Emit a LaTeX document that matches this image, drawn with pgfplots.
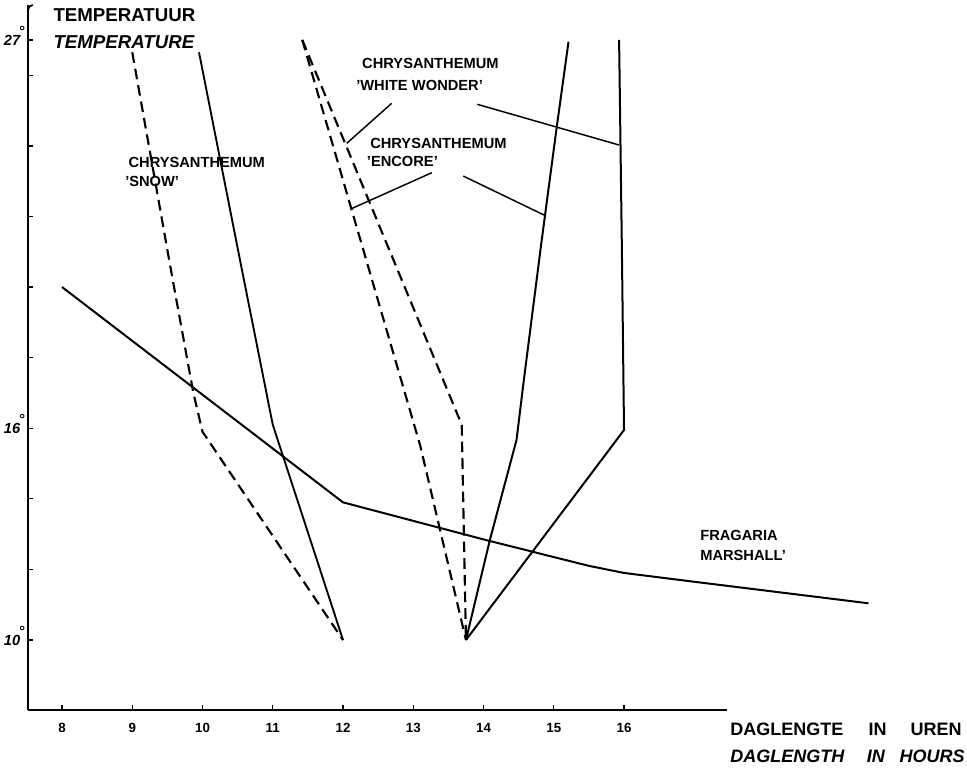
\documentclass[border=0pt]{standalone}
\usepackage{pgfplots}
\pgfplotsset{compat=1.18}
\usepackage{fontspec}
\setmainfont{Liberation Sans}
\newcommand{\dg}{\kern-0.12em\smash{\raisebox{0.6em}{°}}}
\begin{document}
\begin{tikzpicture}
\begin{axis}[
  scale only axis, width=524.25pt, height=528.75pt,
  xmin=7.516, xmax=17.466, ymin=8.017, ymax=27.99,
  axis x line=bottom, axis y line=left,
  x axis line style={-, line width=1.3pt},
  y axis line style={-, line width=1.3pt},
  xtick={8,...,16}, xticklabels={8,9,10,11,12,13,14,15,16},
  ytick={10,12,14,16,18,20,22,24,26,27},
  yticklabels={10\dg,,,16\dg,,,,,,27\dg},
  tick align=inside, major tick length=4pt,
  tick style={line width=1pt, black},
  xticklabel style={font=\bfseries\fontsize{10}{12}\selectfont, inner sep=0pt, anchor=north, yshift=-9.5pt},
  yticklabel style={font=\bfseries\itshape\fontsize{11}{13}\selectfont, inner sep=0pt, anchor=east, xshift=-2.5pt},
  clip=false,
]
% Chrysanthemum 'Snow' dashed
\addplot[black, line width=1.6pt, dash pattern=on 8pt off 4.5pt] coordinates {(9.0,26.65) (9.54,20.6) (9.87,17.0) (10.0,15.9) (12.0,10.0)};
% Chrysanthemum 'Snow' solid
\addplot[black, line width=1.4pt] coordinates {(9.95,26.65) (10.56,20.5) (11.0,16.1) (12.0,10.0)};
% Encore dashed
\addplot[black, line width=1.6pt, dash pattern=on 8pt off 4.5pt] coordinates {(11.42,27.0) (13.1,15.5) (13.75,10.0)};
% White Wonder dashed
\addplot[black, line width=1.6pt, dash pattern=on 8pt off 4.5pt] coordinates {(11.42,27.0) (13.69,16.1) (13.75,10.0)};
% Encore solid
\addplot[black, line width=1.5pt] coordinates {(13.75,10.0) (14.09,12.83) (14.47,15.67) (14.57,17.3) (14.82,21.2) (15.04,24.5) (15.21,26.95)};
% White Wonder solid
\addplot[black, line width=1.5pt] coordinates {(13.75,10.0) (16.0,15.95) (15.97,21.0) (15.93,27.0)};
% Fragaria 'Marshall'
\addplot[black, line width=1.5pt] coordinates {(8.0,20.0) (12.0,13.9) (14.0,12.85) (15.5,12.1) (16.0,11.9) (17.0,11.65) (19.48,11.04)};
% leader lines
\draw[line width=1.1pt] (axis cs:12.693,25.204) -- (axis cs:12.053,24.071);
\draw[line width=1.1pt] (axis cs:13.912,25.176) -- (axis cs:15.929,24.023);
\draw[line width=1.1pt] (axis cs:13.263,23.238) -- (axis cs:12.110,22.210);
\draw[line width=1.1pt] (axis cs:13.712,23.144) -- (axis cs:14.861,22.040);
% top hook of y axis
\draw[line width=1.3pt] (axis cs:7.516,27.85) to[out=90,in=180] (axis cs:7.585,27.99);
% texts
\node[anchor=west, inner sep=0pt, font=\bfseries\fontsize{14}{16}\selectfont] at (axis cs:7.876,27.705) {TEMPERATUUR};
\node[anchor=west, inner sep=0pt, font=\bfseries\itshape\fontsize{14}{16}\selectfont] at (axis cs:7.876,26.935) {TEMPERATURE};
\node[anchor=west, inner sep=0pt, font=\bfseries\fontsize{11}{13}\selectfont] at (axis cs:8.944,23.541) {CHRYSANTHEMUM};
\node[anchor=west, inner sep=0pt, font=\bfseries\fontsize{11}{13}\selectfont] at (axis cs:8.897,23.003) {'SNOW'};
\node[anchor=west, inner sep=0pt, font=\bfseries\fontsize{11}{13}\selectfont] at (axis cs:12.384,24.079) {CHRYSANTHEMUM};
\node[anchor=west, inner sep=0pt, font=\bfseries\fontsize{11}{13}\selectfont] at (axis cs:12.337,23.550) {'ENCORE'};
\node[anchor=west, inner sep=0pt, font=\bfseries\fontsize{11}{13}\selectfont] at (axis cs:12.270,26.337) {CHRYSANTHEMUM};
\node[anchor=west, inner sep=0pt, font=\bfseries\fontsize{11}{13}\selectfont] at (axis cs:12.185,25.714) {'WHITE\hspace{0.3em}WONDER'};
\node[anchor=west, inner sep=0pt, font=\bfseries\fontsize{11}{13}\selectfont] at (axis cs:17.082,12.955) {FRAGARIA};
\node[anchor=west, inner sep=0pt, font=\bfseries\fontsize{11}{13}\selectfont] at (axis cs:17.082,12.408) {MARSHALL'};
\node[anchor=west, inner sep=0pt, font=\bfseries\fontsize{13.5}{15}\selectfont] at (axis cs:17.509,7.479) {DAGLENGTE\hspace{19pt}IN\hspace{18pt}UREN};
\node[anchor=west, inner sep=0pt, font=\bfseries\itshape\fontsize{13.5}{15}\selectfont] at (axis cs:17.509,6.694) {DAGLENGTH\hspace{17pt}IN\hspace{11pt}HOURS};
\end{axis}
\pgfresetboundingbox
\path[use as bounding box] (-21pt,-46.5pt) rectangle (704.25pt,532.5pt);
\end{tikzpicture}
\end{document}
